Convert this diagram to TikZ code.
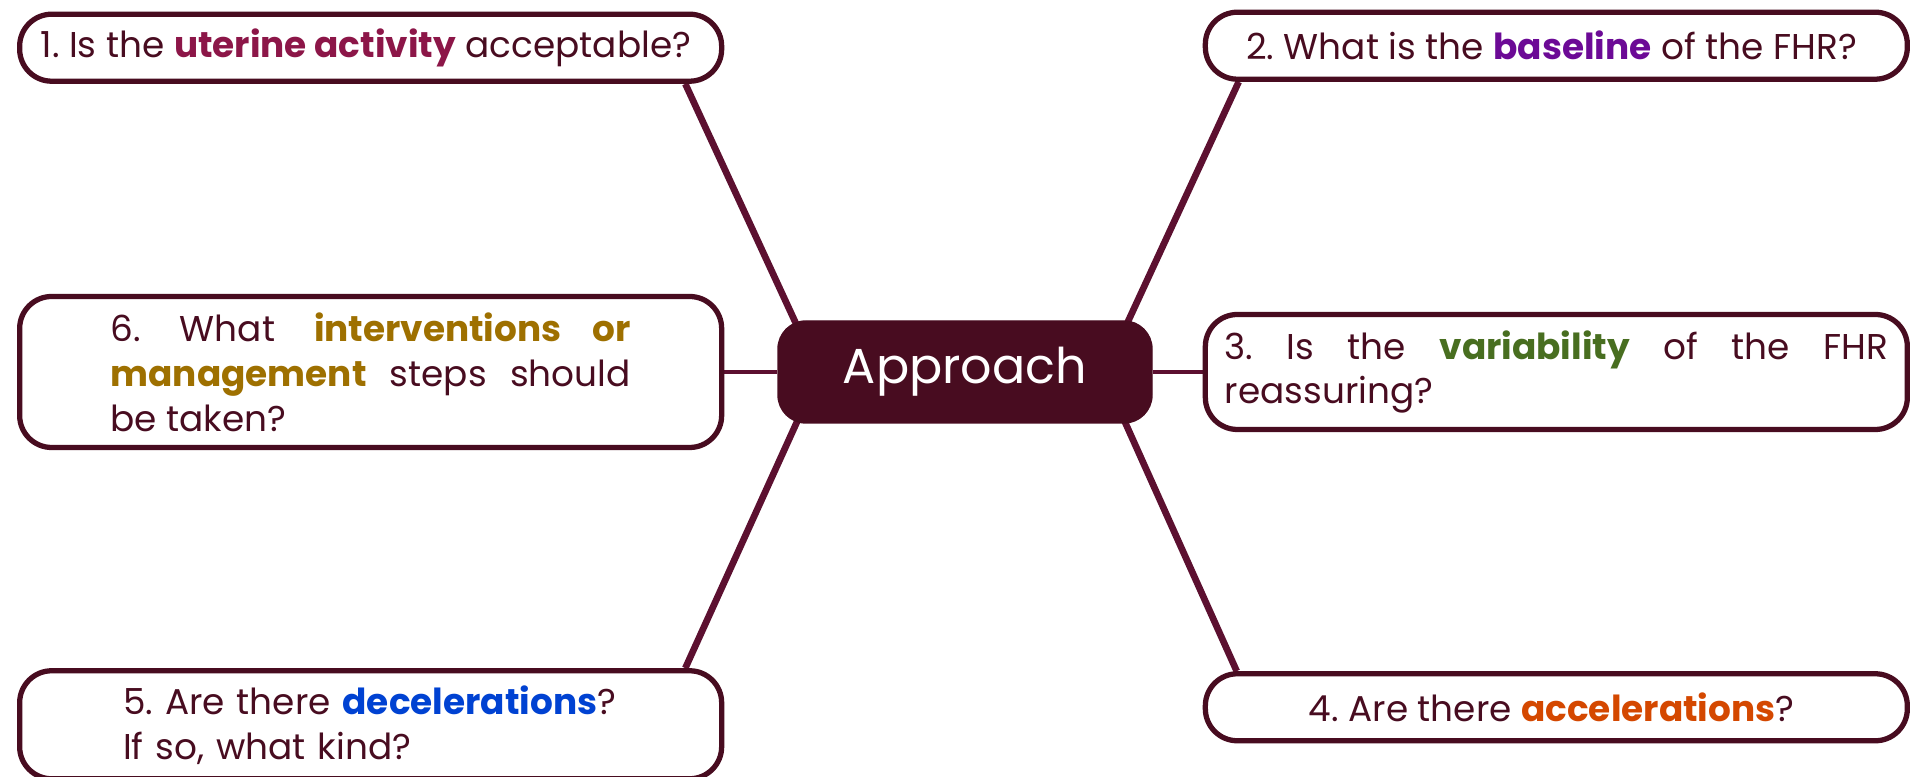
\documentclass[tikz,border=0pt]{standalone}
\usepackage{fontspec}
\setmainfont{Poppins}
\usepackage{xcolor}
\usetikzlibrary{positioning, calc, backgrounds}
\frenchspacing
\definecolor{maroon}{RGB}{72, 12, 32}
\definecolor{linkcol}{RGB}{92, 16, 48}
\definecolor{uterine}{RGB}{140, 22, 72}
\definecolor{baseline}{RGB}{108, 10, 150}
\definecolor{variab}{RGB}{72, 110, 32}
\definecolor{accel}{RGB}{212, 72, 0}
\definecolor{decel}{RGB}{0, 66, 210}
\definecolor{interv}{RGB}{158, 112, 0}
\newcommand{\keyword}[2]{\textcolor{#1}{\bfseries #2}}
\tikzset{
  font=\fontsize{10.2}{12.8}\selectfont,
  questionblock/.style={
    rectangle, rounded corners=0.32cm, draw=maroon, fill=white,
    line width=1.5pt, text=maroon, align=center,
    minimum width=7.02cm, minimum height=0.67cm
  },
  hubblock/.style={
    rectangle, rounded corners=0.28cm, draw=maroon, fill=maroon,
    text=white, font=\fontsize{14}{16}\selectfont,
    minimum width=3.74cm, minimum height=1.02cm
  },
  linkline/.style={draw=linkcol, line width=1.9pt},
  sideline/.style={draw=linkcol, line width=1.2pt}
}

\begin{document}
\begin{tikzpicture}
  \useasboundingbox (0,0) rectangle (19.25,7.77);

  % Central topic
  \node[hubblock] (hub) at (9.65,4.05) {Approach};

  % Middle row
  \node[questionblock, left=0.53cm of hub, minimum height=1.51cm,
        text width=5.2cm, align=justify] (interv) {
    6. What \keyword{interv}{interventions or}\linebreak
    \keyword{interv}{management} steps should\linebreak
    be taken?
  };
  \node[questionblock, right=0.50cm of hub, minimum height=1.15cm,
        text width=6.63cm, align=justify] (variab) {
    3. Is the \keyword{variab}{variability} of the FHR\linebreak
    reassuring?
  };

  % Top row
  \node[questionblock, above=2.10cm of interv] (uterine) {
    1. Is the \keyword{uterine}{uterine activity} acceptable?
  };
  \node[questionblock, above=2.30cm of variab] (baseline) {
    2. What is the \keyword{baseline}{baseline} of the FHR?
  };

  % Bottom row
  \node[questionblock, below=2.18cm of interv, minimum height=1.08cm,
        text width=4.95cm, align=left] (decel) {
    5. Are there \keyword{decel}{decelerations}?\\
    If so, what kind?
  };
  \node[questionblock, below=2.39cm of variab] (accel) {
    4. Are there \keyword{accel}{accelerations}?
  };

  % Spokes, kept behind the boxes
  \begin{scope}[on background layer]
    \draw[linkline] ($(uterine.south east)+(-0.39,0)$) -- ($(hub.north west)+(0.31,-0.30)$);
    \draw[linkline] ($(baseline.south west)+(0.36,0)$) -- ($(hub.north east)+(-0.38,-0.30)$);
    \draw[linkline] ($(decel.north east)+(-0.39,0)$) -- ($(hub.south west)+(0.32,0.29)$);
    \draw[linkline] ($(accel.north west)+(0.34,0)$) -- ($(hub.south east)+(-0.40,0.29)$);
    \draw[sideline] (interv.east) -- (hub.west);
    \draw[sideline] (variab.west) -- (hub.east);
  \end{scope}
\end{tikzpicture}
\end{document}
